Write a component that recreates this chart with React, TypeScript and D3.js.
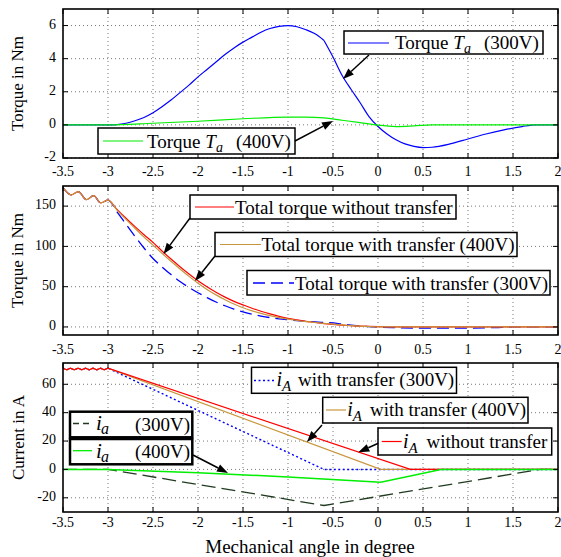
import React from 'react';
import * as d3 from 'd3';

// ---------- tick values ----------
const xTicks = [-3.5, -3, -2.5, -2, -1.5, -1, -0.5, 0, 0.5, 1, 1.5, 2];
const topYTicks = [-2, 0, 2, 4, 6];
const midYTicks = [0, 50, 100, 150];
const botYTicks = [-20, 0, 20, 40, 60];

// ---------- top panel: torque T_a ----------
const angleTa300 = [-3.5, -3.0, -2.9, -2.8, -2.7, -2.6, -2.5, -2.4, -2.3, -2.2, -2.1, -2.0, -1.9, -1.8, -1.7, -1.6, -1.5, -1.4, -1.3, -1.2, -1.1, -1.0, -0.9, -0.8, -0.7, -0.6, -0.5, -0.4, -0.3, -0.2, -0.1, 0, 0.1, 0.2, 0.3, 0.4, 0.5, 0.6, 0.8, 1.0, 1.2, 1.4, 1.6, 1.75, 2.0];
const torqueTa300 = [0, 0, 0.02, 0.1, 0.25, 0.45, 0.73, 1.1, 1.5, 1.95, 2.4, 2.9, 3.35, 3.8, 4.25, 4.65, 5.0, 5.3, 5.6, 5.82, 5.95, 6.0, 5.93, 5.75, 5.5, 5.1, 4.1, 3.0, 2.15, 1.35, 0.5, -0.1, -0.55, -0.9, -1.15, -1.3, -1.37, -1.35, -1.15, -0.85, -0.55, -0.3, -0.1, 0, 0];
const kinkAngleTa300 = -0.6;
const angleTa400 = [-3.5, -3.0, -2.5, -2.0, -1.5, -1.0, -0.8, -0.6, -0.4, -0.2, 0, 0.2, 0.4, 0.6, 2.0];
const torqueTa400 = [0, 0, 0.1, 0.22, 0.37, 0.47, 0.47, 0.42, 0.28, 0.14, -0.02, -0.1, -0.06, 0, 0];

// ---------- middle panel: total torque ----------
const angleZig = [-3.5, -3.41, -3.33, -3.24, -3.16, -3.08];
const torqueZig = [173, 164, 168, 158, 163, 154];
const angleTotNo = [-3.0, -2.9, -2.8, -2.7, -2.6, -2.5, -2.4, -2.3, -2.2, -2.1, -2.0, -1.9, -1.8, -1.7, -1.6, -1.5, -1.4, -1.3, -1.2, -1.1, -1.0, -0.9, -0.8, -0.7, -0.6, -0.5, -0.4, -0.3, -0.2, -0.1, 0, 0.2, 2.0];
const torqueTotNo = [157.5, 146, 135, 124.5, 114.5, 105, 94.3, 84.3, 74.8, 65.8, 57.4, 49.8, 43, 37, 31.8, 27.4, 23.2, 19.5, 16.2, 13.2, 10.6, 8.7, 7, 5.5, 4.2, 3.1, 2.2, 1.6, 1.0, 0.6, 0.3, 0, 0];
const angleTot400 = [-3.0, -2.9, -2.8, -2.7, -2.6, -2.5, -2.4, -2.3, -2.2, -2.1, -2.0, -1.9, -1.8, -1.7, -1.6, -1.5, -1.4, -1.3, -1.2, -1.1, -1.0, -0.9, -0.8, -0.7, -0.6, -0.5, -0.4, -0.3, -0.2, -0.1, 0, 2.0];
const torqueTot400 = [157.5, 145, 133.5, 122.5, 111.5, 101.6, 91.3, 81.5, 72, 62.8, 54.2, 46.5, 39.8, 33.8, 28.4, 23.8, 20, 16.8, 14, 11.6, 9.6, 8, 6.6, 5.5, 4.5, 3.5, 2.5, 1.7, 1.0, 0.4, 0, 0];
const angleTot300 = [-3.0, -2.9, -2.8, -2.7, -2.6, -2.5, -2.4, -2.3, -2.2, -2.1, -2.0, -1.9, -1.8, -1.7, -1.6, -1.5, -1.4, -1.3, -1.2, -1.1, -1.0, -0.9, -0.8, -0.7, -0.6, -0.5, -0.4, -0.3, -0.2, -0.1, 0, 0.2, 0.5, 1.0, 1.3, 1.5, 2.0];
const torqueTot300 = [157.5, 143, 127.5, 112.5, 98, 85, 74.5, 65, 56.5, 49, 42.5, 36.5, 31, 26.3, 22.2, 18.7, 15.8, 13.5, 11.6, 10.1, 8.9, 7.8, 6.9, 6.2, 5.6, 5, 3.5, 2.3, 1.3, 0.4, -0.3, -1.0, -1.5, -1.5, -0.8, 0, 0];

// ---------- bottom panel: currents ----------
const angleWave = [-3.5, -3.458, -3.417, -3.375, -3.333, -3.292, -3.25, -3.208, -3.167, -3.125, -3.083, -3.042];
const currentWave = [71.3, 70.2, 71.3, 70.2, 71.3, 70.2, 71.3, 70.2, 71.3, 70.2, 71.3, 70.2];
const angleIANo = [-3.0, 0.36, 2.0];
const currentIANo = [71.3, 0, 0];
const angleIA400 = [-3.0, 0.03, 2.0];
const currentIA400 = [71.3, 0, 0];
const angleIA300 = [-3.0, -0.6, 2.0];
const currentIA300 = [71.3, 0, 0];
const angleIa300 = [-3.5, -3.0, -0.6, 1.8, 2.0];
const currentIa300 = [0, 0, -25.4, 0, 0];
const angleIa400 = [-3.5, -3.0, -2.0, -1.0, 0.03, 0.7, 2.0];
const currentIa400 = [0, 0, -2.3, -5.3, -9, 0, 0];

const FONT = 'Liberation Serif, Times New Roman, DejaVu Serif, serif';
const BLUE = '#0000ff';
const GREEN = '#00ee00';
const RED = '#ff0000';
const GOLD = '#c8963c';
const DKGREEN = '#1f3a1f';

const X0 = 63, X1 = 558;
const xScale = d3.scaleLinear().domain([-3.5, 2]).range([X0, X1]);

type P = [number, number];
const zip = (xs: number[], ys: number[]): P[] => xs.map((x, i) => [x, ys[i]]);

function Arrow({ x1, y1, x2, y2 }: { x1: number; y1: number; x2: number; y2: number }) {
  const a = Math.atan2(y2 - y1, x2 - x1);
  const L = 11, w = 4;
  const bx = x2 - L * Math.cos(a), by = y2 - L * Math.sin(a);
  const px = -Math.sin(a) * w, py = Math.cos(a) * w;
  return (
    <g>
      <line x1={x1} y1={y1} x2={bx} y2={by} stroke="black" strokeWidth={1.5} />
      <polygon points={`${x2},${y2} ${bx + px},${by + py} ${bx - px},${by - py}`} fill="black" />
    </g>
  );
}

function Panel({ y, ticks, labelY, title, titleX, children }: any) {
  const [yb, yt] = y.range();
  return (
    <g>
      {xTicks.slice(1, -1).map((t) => (
        <line key={'gx' + t} x1={xScale(t)} x2={xScale(t)} y1={yt} y2={yb} stroke="#555" strokeWidth={0.8} strokeDasharray="1,3" />
      ))}
      {ticks.map((t: number) => (
        <line key={'gy' + t} x1={X0} x2={X1} y1={y(t)} y2={y(t)} stroke="#555" strokeWidth={0.8} strokeDasharray="1,3" />
      ))}
      <g>{children}</g>
      <rect x={X0} y={yt} width={X1 - X0} height={yb - yt} fill="none" stroke="black" strokeWidth={1.6} />
      {xTicks.map((t) => (
        <g key={'tx' + t}>
          <line x1={xScale(t)} x2={xScale(t)} y1={yb} y2={yb - 5} stroke="black" strokeWidth={1} />
          <line x1={xScale(t)} x2={xScale(t)} y1={yt} y2={yt + 5} stroke="black" strokeWidth={1} />
          <text x={xScale(t)} y={labelY} fontSize={14} textAnchor="middle" dominantBaseline="middle">{String(t)}</text>
        </g>
      ))}
      {ticks.map((t: number) => (
        <g key={'ty' + t}>
          <line x1={X0} x2={X0 + 5} y1={y(t)} y2={y(t)} stroke="black" strokeWidth={1} />
          <line x1={X1} x2={X1 - 5} y1={y(t)} y2={y(t)} stroke="black" strokeWidth={1} />
          <text x={56} y={y(t)} fontSize={14} textAnchor="end" dominantBaseline="middle">{String(t)}</text>
        </g>
      ))}
      <text transform={`translate(${titleX},${(yt + yb) / 2}) rotate(-90)`} textAnchor="middle" dominantBaseline="middle" fontSize={17}>{title}</text>
    </g>
  );
}

function Box({ x, y, w, h, sw = 1.5 }: any) {
  return <rect x={x} y={y} width={w} height={h} fill="white" stroke="black" strokeWidth={sw} />;
}

export default function App() {
  const yTop = d3.scaleLinear().domain([-2, 7]).range([158, 9]);
  const yMid = d3.scaleLinear().domain([-10, 175]).range([335, 186]);
  const yBot = d3.scaleLinear().domain([-30, 75]).range([512, 363]);

  const lineTop = d3.line<P>().x((d) => xScale(d[0])).y((d) => yTop(d[1])).curve(d3.curveMonotoneX);
  const lineMid = d3.line<P>().x((d) => xScale(d[0])).y((d) => yMid(d[1])).curve(d3.curveMonotoneX);
  const lineBot = d3.line<P>().x((d) => xScale(d[0])).y((d) => yBot(d[1]));

  const zigMid = zip(angleZig, torqueZig);
  const waveBot = zip(angleWave, currentWave);

  const ta300 = zip(angleTa300, torqueTa300);
  const k = angleTa300.indexOf(kinkAngleTa300);

  return (
    <svg width={561} height={557} style={{ position: 'absolute', left: 0, top: 0, background: 'white', fontFamily: FONT }}>
      <rect x={0} y={0} width={561} height={557} fill="white" />
      {/* ---------- top ---------- */}
      <Panel y={yTop} ticks={topYTicks} labelY={173} title="Torque in Nm" titleX={19}>
        <path d={lineTop(ta300.slice(0, k + 1)) || ''} fill="none" stroke={BLUE} strokeWidth={1.2} />
        <path d={lineTop(ta300.slice(k)) || ''} fill="none" stroke={BLUE} strokeWidth={1.2} />
        <path d={lineTop(zip(angleTa400, torqueTa400)) || ''} fill="none" stroke={GREEN} strokeWidth={1.2} />
      </Panel>
      <Box x={344} y={31} w={199} h={23} />
      <line x1={348} x2={389} y1={43} y2={43} stroke={BLUE} strokeWidth={1.2} />
      <text x={395} y={49} fontSize={19}>Torque <tspan fontStyle="italic">T</tspan><tspan fontStyle="italic" fontSize={14} dy={4}>a</tspan><tspan x={484} dy={-4}>(300V)</tspan></text>
      <Arrow x1={369} y1={55} x2={343} y2={79} />
      <Box x={98} y={128} w={197} h={26} />
      <line x1={103} x2={143} y1={141} y2={141} stroke={GREEN} strokeWidth={1.2} />
      <text x={147} y={147.5} fontSize={19}>Torque <tspan fontStyle="italic">T</tspan><tspan fontStyle="italic" fontSize={14} dy={4}>a</tspan><tspan x={236} dy={-4}>(400V)</tspan></text>
      <Arrow x1={295} y1={141} x2={333} y2={121} />

      {/* ---------- middle ---------- */}
      <Panel y={yMid} ticks={midYTicks} labelY={351} title="Torque in Nm" titleX={19}>
        <path d={lineMid([...zigMid, ...zip(angleTot300, torqueTot300)]) || ''} fill="none" stroke={BLUE} strokeWidth={1.3} strokeDasharray="12,6" />
        <path d={lineMid([...zigMid, ...zip(angleTotNo, torqueTotNo)]) || ''} fill="none" stroke={RED} strokeWidth={1.2} />
        <path d={lineMid([...zigMid, ...zip(angleTot400, torqueTot400)]) || ''} fill="none" stroke={GOLD} strokeWidth={1.2} />
      </Panel>
      <Box x={190} y={195} w={266} h={24} />
      <line x1={195} x2={234} y1={207} y2={207} stroke={RED} strokeWidth={1.2} />
      <text x={235} y={213.5} fontSize={19}>Total torque without transfer</text>
      <Arrow x1={190} y1={218} x2={163.5} y2={254} />
      <Box x={215} y={232.5} w={302} h={24} />
      <line x1={220} x2={261} y1={244.5} y2={244.5} stroke={GOLD} strokeWidth={1.2} />
      <text x={261.5} y={251} fontSize={19}>Total torque with transfer (400V)</text>
      <Arrow x1={215} y1={256} x2={195} y2={281} />
      <Box x={247} y={270.5} w={303} h={24.5} />
      <line x1={253} x2={294} y1={283} y2={283} stroke={BLUE} strokeWidth={1.3} strokeDasharray="12,6" />
      <text x={295} y={289.5} fontSize={19}>Total torque with transfer (300V)</text>

      {/* ---------- bottom ---------- */}
      <Panel y={yBot} ticks={botYTicks} labelY={524} title="Current in A" titleX={20}>
        <path d={lineBot(zip(angleIa300, currentIa300)) || ''} fill="none" stroke={DKGREEN} strokeWidth={1.3} strokeDasharray="14,6" />
        <path d={lineBot([...waveBot, ...zip(angleIA300, currentIA300)]) || ''} fill="none" stroke={BLUE} strokeWidth={1.4} strokeDasharray="2,2.5" />
        <path d={lineBot([...waveBot, ...zip(angleIA400, currentIA400)]) || ''} fill="none" stroke={GOLD} strokeWidth={1.2} />
        <path d={lineBot([...waveBot, ...zip(angleIANo, currentIANo)]) || ''} fill="none" stroke={RED} strokeWidth={1.2} />
        <path d={lineBot(zip(angleIa400, currentIa400)) || ''} fill="none" stroke={GREEN} strokeWidth={1.5} />
      </Panel>
      <Box x={251.5} y={367.3} w={205} h={26} />
      <line x1={254} x2={274} y1={380.5} y2={380.5} stroke={BLUE} strokeWidth={1.4} strokeDasharray="2,2.5" />
      <text x={276.5} y={386} fontSize={20}><tspan fontStyle="italic">i</tspan><tspan fontStyle="italic" fontSize={15} dy={5}>A</tspan><tspan x={298} dy={-5} fontSize={19}>with transfer (300V)</tspan></text>
      <Box x={322.7} y={397.3} w={205.3} h={25.7} />
      <line x1={326} x2={346} y1={410} y2={410} stroke={GOLD} strokeWidth={1.2} />
      <text x={347.3} y={416} fontSize={20}><tspan fontStyle="italic">i</tspan><tspan fontStyle="italic" fontSize={15} dy={5}>A</tspan><tspan x={370} dy={-5} fontSize={19}>with transfer (400V)</tspan></text>
      <Arrow x1={322} y1={425} x2={307} y2={442} />
      <Box x={378} y={428} w={173.7} h={27} />
      <line x1={381.7} x2={401.7} y1={441.5} y2={441.5} stroke={RED} strokeWidth={1.2} />
      <text x={403} y={447.5} fontSize={20}><tspan fontStyle="italic">i</tspan><tspan fontStyle="italic" fontSize={15} dy={5}>A</tspan><tspan x={426.5} dy={-5} fontSize={19}>without transfer</tspan></text>
      <Arrow x1={378.3} y1={443.3} x2={358.3} y2={452.3} />

      <Box x={70} y={411.7} w={122.3} h={25.6} sw={2.5} />
      <line x1={73} x2={92} y1={423.5} y2={423.5} stroke={DKGREEN} strokeWidth={1.3} strokeDasharray="6,4" />
      <text x={96} y={430} fontSize={21} fontStyle="italic">i</text>
      <text x={101} y={434} fontSize={16} fontStyle="italic">a</text>
      <text x={190} y={430.5} fontSize={19} textAnchor="end">(300V)</text>
      <Box x={70} y={439} w={122.3} h={25.3} sw={2.5} />
      <line x1={73} x2={92} y1={450.7} y2={450.7} stroke={GREEN} strokeWidth={1.3} />
      <text x={96} y={457.5} fontSize={21} fontStyle="italic">i</text>
      <text x={101} y={461.5} fontSize={16} fontStyle="italic">a</text>
      <text x={190} y={458} fontSize={19} textAnchor="end">(400V)</text>
      <Arrow x1={193} y1={455} x2={228} y2={473} />

      <text x={310} y={549} fontSize={19} textAnchor="middle" dominantBaseline="middle">Mechanical angle in degree</text>
    </svg>
  );
}
